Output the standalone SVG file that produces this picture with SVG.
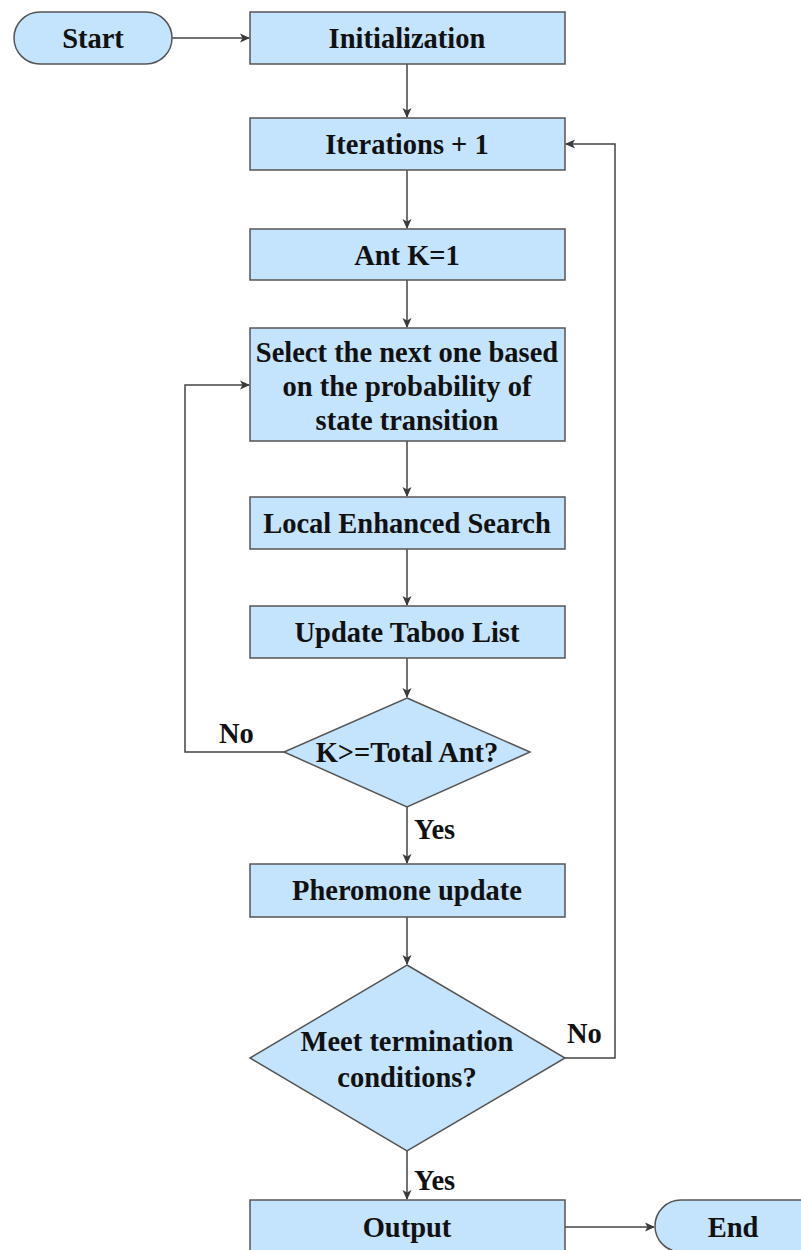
<svg xmlns="http://www.w3.org/2000/svg" width="801" height="1250" viewBox="0 0 801 1250">
<defs>
<marker id="arr" markerWidth="12" markerHeight="12" refX="10" refY="6" orient="auto" markerUnits="userSpaceOnUse">
<path d="M1,1.5 L11,6 L1,10.5 L3.5,6 Z" fill="#3a3a3a"/>
</marker>
<style>
.n{fill:#c4e3fc;stroke:#555;stroke-width:1.5}
.t{font-family:"Liberation Serif","Times New Roman",serif;font-weight:bold;font-size:28.5px;fill:#111;text-anchor:middle;dominant-baseline:central}
.c{fill:none;stroke:#444;stroke-width:1.5;marker-end:url(#arr)}
.l{font-family:"Liberation Serif","Times New Roman",serif;font-weight:bold;font-size:28.5px;fill:#111}
</style>
</defs>
<rect width="801" height="1250" fill="#fff"/>
<g id="connectors">
<path class="c" d="M172,38 H249"/>
<path class="c" d="M407,64 V117"/>
<path class="c" d="M407,170 V228"/>
<path class="c" d="M407,280 V327"/>
<path class="c" d="M407,441 V496"/>
<path class="c" d="M407,549 V605"/>
<path class="c" d="M407,658 V697"/>
<path class="c" d="M284,752 H185 V385 H249"/>
<path class="c" d="M407,807 V863"/>
<path class="c" d="M407,917 V964"/>
<path class="c" d="M565,1058 H615 V144 H566"/>
<path class="c" d="M407,1151 V1199"/>
<path class="c" d="M565,1227 H654"/>
<text class="l" x="219" y="743">No</text>
<text class="l" x="567" y="1043">No</text>
<text class="l" x="414" y="839">Yes</text>
<text class="l" x="414" y="1190">Yes</text>
</g>
<g id="start"><rect class="n" x="14" y="12" width="158" height="52" rx="26"/><text class="t" x="93" y="38">Start</text></g>
<g id="init"><rect class="n" x="250" y="12" width="315" height="52"/><text class="t" x="407" y="38">Initialization</text></g>
<g id="iter"><rect class="n" x="250" y="118" width="315" height="52"/><text class="t" x="407" y="144">Iterations + 1</text></g>
<g id="ant"><rect class="n" x="250" y="229" width="315" height="51"/><text class="t" x="407" y="255">Ant K=1</text></g>
<g id="select"><rect class="n" x="250" y="328" width="315" height="113"/><text class="t" x="407" y="352">Select the next one based</text><text class="t" x="407" y="386">on the probability of</text><text class="t" x="407" y="420">state transition</text></g>
<g id="local"><rect class="n" x="250" y="497" width="315" height="52"/><text class="t" x="407" y="523">Local Enhanced Search</text></g>
<g id="taboo"><rect class="n" x="250" y="606" width="315" height="52"/><text class="t" x="407" y="632">Update Taboo List</text></g>
<g id="check"><polygon class="n" points="407,698 530,752 407,807 284,752"/><text class="t" x="407" y="752">K&gt;=Total Ant?</text></g>
<g id="pher"><rect class="n" x="250" y="864" width="315" height="53"/><text class="t" x="407" y="890">Pheromone update</text></g>
<g id="term"><polygon class="n" points="407,965 565,1058 407,1151 250,1058"/><text class="t" x="407" y="1041">Meet termination</text><text class="t" x="407" y="1077">conditions?</text></g>
<g id="output"><rect class="n" x="250" y="1200" width="315" height="60"/><text class="t" x="407" y="1227">Output</text></g>
<g id="end"><rect class="n" x="655" y="1200" width="180" height="52" rx="26"/><text class="t" x="733" y="1227">End</text></g>
</svg>
